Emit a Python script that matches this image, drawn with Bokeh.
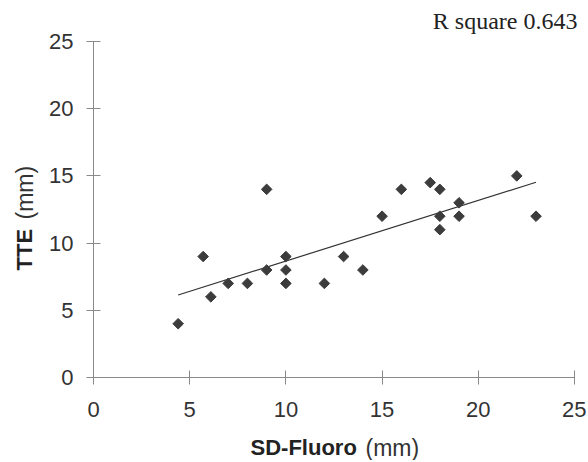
import numpy as np
from bokeh.plotting import figure
from bokeh.models import Range1d, FixedTicker, Label, ColumnDataSource
from bokeh.embed import file_html
from bokeh.resources import INLINE

# data
sd_fluoro = [4.4, 5.7, 6.1, 7, 8, 9, 9, 10, 10, 10, 12, 13, 14, 15, 16, 17.5, 18, 18, 18, 19, 19, 22, 23]
tte = [4, 9, 6, 7, 7, 14, 8, 9, 8, 7, 7, 9, 8, 12, 14, 14.5, 14, 12, 11, 13, 12, 15, 12]
x_ticks = [0, 5, 10, 15, 20, 25]
y_ticks = [0, 5, 10, 15, 20, 25]
r_square_text = "R square 0.643"

W, H = 586, 460
# frame covers whole canvas; axes sit at data 0 (fixed_location)
x0_px, x25_px = 93, 574
y0_px, y25_px = 377, 41
xs = (x25_px - x0_px) / 25.0
ys = (y0_px - y25_px) / 25.0
x_range = Range1d(-x0_px / xs, 25 + (W - x25_px) / xs)
y_range = Range1d(-(H - y0_px) / ys, 25 + y25_px / ys)

p = figure(width=W, height=H, output_backend="svg", toolbar_location=None,
           x_range=x_range, y_range=y_range,
           min_border_left=0, min_border_right=0, min_border_top=0, min_border_bottom=0)
p.outline_line_color = None
p.xgrid.visible = False
p.ygrid.visible = False
p.background_fill_color = "white"
p.border_fill_color = "white"

for ax, ticks in ((p.xaxis[0], x_ticks), (p.yaxis[0], y_ticks)):
    ax.ticker = FixedTicker(ticks=ticks)
    ax.fixed_location = 0
    ax.bounds = (0, 25)
    ax.minor_tick_line_color = None
    ax.axis_line_color = "#8a8a8a"
    ax.major_tick_line_color = "#8a8a8a"
    ax.major_tick_in = 7
    ax.major_tick_out = 7
    ax.major_label_text_font = "Liberation Sans"
    ax.major_label_text_font_size = "22px"
    ax.major_label_text_color = "#333333"
p.xaxis.major_label_standoff = 17
p.yaxis.major_label_standoff = 13

# regression line
slope, intercept = np.polyfit(sd_fluoro, tte, 1)
lx = [min(sd_fluoro), max(sd_fluoro)]
ly = [slope * v + intercept for v in lx]
p.line(lx, ly, line_color="#333333", line_width=1.2)

src = ColumnDataSource(dict(x=sd_fluoro, y=tte))
p.scatter("x", "y", source=src, marker="square", angle=np.pi / 4, size=7.5,
          fill_color="#3c3c3c", line_color="#3c3c3c")

# axis titles (bold part + normal part), screen units from bottom-left
p.add_layout(Label(x=250, y=H - 447, x_units="screen", y_units="screen", text="SD-Fluoro",
                   text_font="Liberation Sans", text_font_style="bold", text_font_size="22px",
                   text_color="#222222", text_baseline="alphabetic", text_align="left"))
p.add_layout(Label(x=365, y=H - 447, x_units="screen", y_units="screen", text="(mm)",
                   text_font="Liberation Sans", text_font_size="23px",
                   text_color="#333333", text_baseline="alphabetic", text_align="left"))
p.add_layout(Label(x=24, y=H - 270, x_units="screen", y_units="screen", text="TTE", angle=np.pi / 2,
                   text_font="Liberation Sans", text_font_style="bold", text_font_size="22px",
                   text_color="#222222", text_baseline="alphabetic", text_align="left"))
p.add_layout(Label(x=24, y=H - 219, x_units="screen", y_units="screen", text="(mm)", angle=np.pi / 2,
                   text_font="Liberation Sans", text_font_size="23px",
                   text_color="#333333", text_baseline="alphabetic", text_align="left"))

p.add_layout(Label(x=577, y=H - 20, x_units="screen", y_units="screen", text=r_square_text,
                   text_font="Liberation Serif", text_font_size="24px",
                   text_color="#222222", text_baseline="alphabetic", text_align="right"))

open("out.html", "w").write(file_html(p, INLINE))
